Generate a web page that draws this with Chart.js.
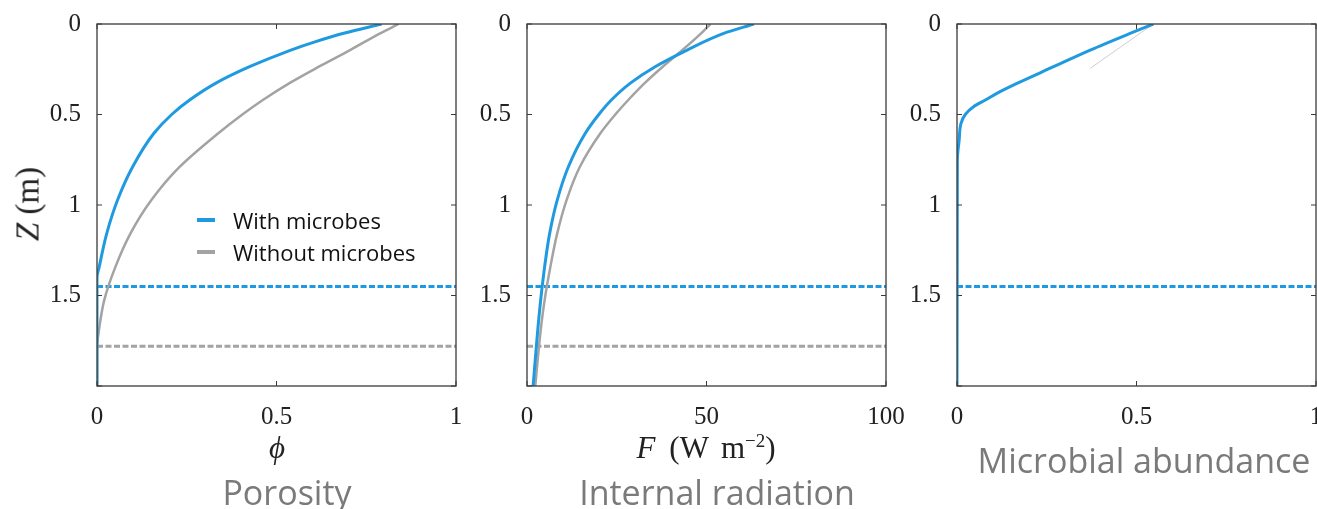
<!DOCTYPE html>
<html>
<head>
<meta charset="utf-8">
<script src="https://cdn.jsdelivr.net/npm/chart.js@4"></script>
<style>
  body { margin: 0; width: 1317px; height: 509px; overflow: hidden; background: #fff; position: relative; }
  canvas { position: absolute; top: 0; }
  .t { position: absolute; white-space: nowrap; transform: translate(-50%, -50%); line-height: 1; }
  .math { font-family: "Liberation Serif", "DejaVu Serif", serif; color: #222; }
  .cap { font-family: "Open Sans", "Lato", sans-serif; color: #7a7a7a; font-size: 34px; }
  .legend { position: absolute; left: 197px; top: 204px; font-family: "Open Sans", sans-serif; font-size: 22px; color: #111; }
  .legend div { height: 32px; display: flex; align-items: center; }
  .legend span.sw { display: inline-block; width: 18px; height: 4px; margin-right: 18px; }
</style>
</head>
<body>
<canvas id="porosity" width="469" height="430" style="left:17px"></canvas>
<canvas id="radiation" width="469" height="430" style="left:447px"></canvas>
<canvas id="microbes" width="469" height="430" style="left:877px"></canvas>

<div class="t math" style="left:28px; top:204px; font-size:33px; transform: translate(-50%,-50%) rotate(-90deg)"><i>Z</i> (m)</div>
<div class="t math" style="left:277px; top:447px; font-size:31px"><i>ϕ</i></div>
<div class="t math" style="left:706px; top:447px; font-size:31px"><i>F</i><span style="margin-left:14px">(W</span><span style="margin-left:12px">m</span><sup style="font-size:19px">−2</sup>)</div>
<div class="t cap" style="left:287px; top:492px">Porosity</div>
<div class="t cap" style="left:717px; top:492px">Internal radiation</div>
<div class="t cap" style="left:1144px; top:460px">Microbial abundance</div>

<div class="legend">
  <div><span class="sw" style="background:#1f9ae0"></span>With microbes</div>
  <div><span class="sw" style="background:#a3a3a3"></span>Without microbes</div>
</div>

<script>
// depth (m) and profile values for each series
const zPhiWith    = [0, 0.05, 0.1, 0.144, 0.236, 0.328, 0.42, 0.5, 0.605, 0.79, 0.974, 1.158, 1.343, 1.40, 2.0]
const phiWith     = [0.793, 0.69, 0.605, 0.54, 0.425, 0.33, 0.258, 0.208, 0.158, 0.099, 0.057, 0.027, 0.006, 0, 0]
const zPhiWithout = [0, 0.05, 0.144, 0.236, 0.328, 0.42, 0.5, 0.605, 0.79, 0.974, 1.158, 1.343, 1.527, 1.712, 1.78, 2.0]
const phiWithout  = [0.84, 0.79, 0.705, 0.618, 0.535, 0.462, 0.405, 0.337, 0.23, 0.151, 0.093, 0.051, 0.02, 0.004, 0, 0]

const zF       = [0, 0.052, 0.144, 0.236, 0.328, 0.42, 0.5, 0.605, 0.79, 0.974, 1.158, 1.343, 1.527, 1.712, 2.0]
const fWith    = [63.2, 54.8, 44.6, 35.7, 28.7, 23.5, 20.0, 16.2, 11.5, 8.4, 6.3, 4.9, 3.8, 2.9, 1.7]
const fWithout = [51.1, 48.5, 43.3, 37.8, 32.7, 28.2, 24.6, 20.4, 14.7, 11.0, 8.4, 6.5, 4.9, 3.7, 2.3]

const zMicro    = [0, 0.052, 0.144, 0.236, 0.328, 0.383, 0.42, 0.457, 0.5, 0.55, 0.642, 0.75, 2.0]
const microWith = [0.547, 0.482, 0.371, 0.269, 0.167, 0.111, 0.079, 0.046, 0.023, 0.011, 0.006, 0.001, 0]
const zMicroWithout = [0, 0.245]
const microWithout  = [0.547, 0.371]

// depth of the bottom of the active layer
const depthWith = 1.45
const depthWithout = 1.78

const BLUE = '#1f9ae0'
const GRAY = '#a3a3a3'

function pts(xs, zs) {
    return xs.map((v, i) => ({ x: v, y: zs[i] }))
}

function profile(xs, zs, color, width) {
    return {
        data: pts(xs, zs),
        showLine: true,
        borderColor: color,
        borderWidth: width,
        pointRadius: 0,
        cubicInterpolationMode: 'monotone',
        fill: false
    }
}

function depthLine(z, xmax, color) {
    return {
        data: [{ x: 0, y: z }, { x: xmax, y: z }],
        showLine: true,
        borderColor: color,
        borderWidth: 3,
        borderDash: [6, 2.5],
        pointRadius: 0,
        fill: false
    }
}

// box around the plot with inward tick marks, matlab style
const boxTicks = {
    id: 'boxTicks',
    afterDatasetsDraw(chart) {
        const { ctx, chartArea: a, scales } = chart
        ctx.save()
        ctx.strokeStyle = '#3a3a3a'
        ctx.lineWidth = 1.3
        ctx.strokeRect(a.left, a.top, a.right - a.left, a.bottom - a.top)
        ctx.lineWidth = 1
        ctx.beginPath()
        scales.x.ticks.forEach(t => {
            const px = scales.x.getPixelForValue(t.value)
            ctx.moveTo(px, a.bottom); ctx.lineTo(px, a.bottom - 5)
            ctx.moveTo(px, a.top); ctx.lineTo(px, a.top + 5)
        })
        scales.y.ticks.forEach(t => {
            const py = scales.y.getPixelForValue(t.value)
            ctx.moveTo(a.left, py); ctx.lineTo(a.left + 5, py)
            ctx.moveTo(a.right, py); ctx.lineTo(a.right - 5, py)
        })
        ctx.stroke()
        ctx.restore()
    }
}

const tickFont = { family: '"Liberation Serif", "DejaVu Serif", serif', size: 25 }

function makeChart(id, datasets, xmax, xstep) {
    return new Chart(document.getElementById(id), {
        type: 'scatter',
        data: { datasets: datasets },
        plugins: [boxTicks],
        options: {
            responsive: false,
            animation: false,
            // depth runs down the page, so splines are monotone in y
            indexAxis: 'y',
            layout: { padding: { top: 24, right: 30, left: 0, bottom: 0 } },
            plugins: { legend: { display: false }, tooltip: { enabled: false } },
            scales: {
                x: {
                    type: 'linear', min: 0, max: xmax,
                    grid: { display: false }, border: { display: false },
                    ticks: { stepSize: xstep, padding: 8, color: '#222', font: tickFont, maxRotation: 0,
                        callback: v => String(v) },
                    afterFit: s => { s.height = 44 }
                },
                y: {
                    type: 'linear', min: 0, max: 2, reverse: true,
                    grid: { display: false }, border: { display: false },
                    ticks: {
                        stepSize: 0.5, padding: 8, color: '#222', font: tickFont,
                        callback: v => v === 2 ? '' : String(v)
                    },
                    afterFit: s => { s.width = 80 }
                }
            }
        }
    })
}

makeChart('porosity', [
    profile(phiWith, zPhiWith, BLUE, 3),
    profile(phiWithout, zPhiWithout, GRAY, 2.5),
    depthLine(depthWith, 1, BLUE),
    depthLine(depthWithout, 1, GRAY)
], 1, 0.5)

makeChart('radiation', [
    profile(fWith, zF, BLUE, 3),
    profile(fWithout, zF, GRAY, 2.5),
    depthLine(depthWith, 100, BLUE),
    depthLine(depthWithout, 100, GRAY)
], 100, 50)

makeChart('microbes', [
    profile(microWith, zMicro, BLUE, 3),
    profile(microWithout, zMicroWithout, '#b8b8b8', 0.7),
    depthLine(depthWith, 1, BLUE)
], 1, 0.5)
</script>
</body>
</html>
